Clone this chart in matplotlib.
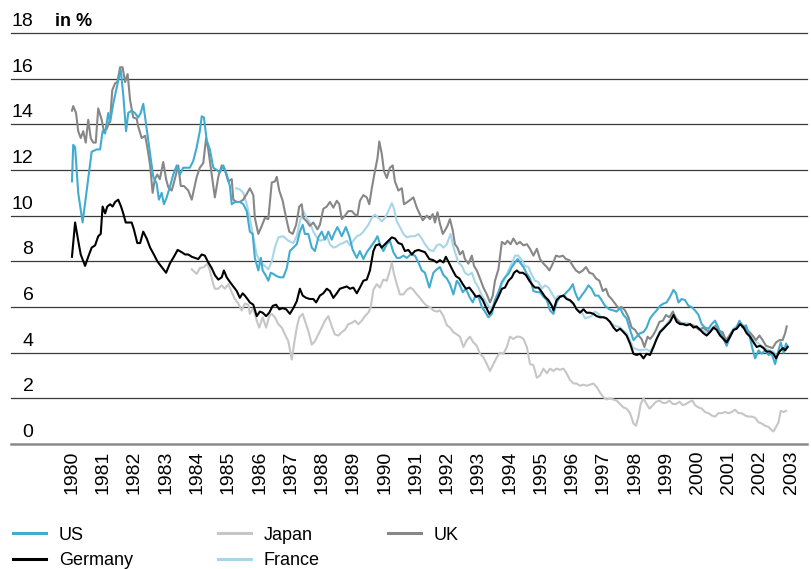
import matplotlib
matplotlib.use("Agg")
import matplotlib.pyplot as plt
from matplotlib.lines import Line2D
from matplotlib import transforms

plt.rcParams['font.family'] = ['Liberation Sans', 'DejaVu Sans']

# long-term interest rates, (decimal year, % p.a.)
us = [
    (1980.00, 11.5), (1980.04, 13.1), (1980.10, 13.0), (1980.20, 11.0), (1980.34, 9.7), (1980.47, 11.1),
    (1980.63, 12.8), (1980.79, 12.9), (1980.90, 12.9), (1980.98, 13.7), (1981.06, 13.6), (1981.16, 14.5),
    (1981.22, 14.1), (1981.32, 14.9), (1981.43, 15.6), (1981.56, 16.4), (1981.64, 15.3), (1981.73, 13.7),
    (1981.80, 14.5), (1981.91, 14.6), (1982.01, 14.5), (1982.12, 14.3), (1982.20, 14.5), (1982.28, 14.9),
    (1982.37, 14.0), (1982.50, 12.7), (1982.60, 11.7), (1982.71, 11.4), (1982.78, 10.7), (1982.87, 11.0),
    (1982.94, 10.5), (1983.03, 10.8), (1983.14, 11.3), (1983.24, 11.8), (1983.35, 12.2), (1983.45, 11.8),
    (1983.56, 12.1), (1983.77, 12.1), (1983.88, 12.4), (1983.99, 13.0), (1984.09, 13.7), (1984.15, 14.35),
    (1984.22, 14.3), (1984.31, 13.3), (1984.41, 12.9), (1984.52, 12.1), (1984.63, 12.0), (1984.73, 11.9),
    (1984.84, 12.2), (1984.95, 11.8), (1985.05, 11.3), (1985.11, 10.5), (1985.21, 10.6), (1985.37, 10.6),
    (1985.48, 10.5), (1985.59, 10.2), (1985.69, 9.3), (1985.78, 9.2), (1985.85, 8.15), (1985.96, 7.6),
    (1986.04, 8.15), (1986.10, 7.6), (1986.21, 7.35), (1986.28, 7.15), (1986.36, 7.5), (1986.44, 7.45),
    (1986.55, 7.35), (1986.65, 7.3), (1986.76, 7.3), (1986.87, 7.7), (1986.97, 8.45), (1987.08, 8.6),
    (1987.19, 8.75), (1987.29, 9.3), (1987.38, 9.6), (1987.45, 9.2), (1987.56, 9.2), (1987.67, 8.6),
    (1987.77, 8.45), (1987.88, 9.05), (1987.99, 9.3), (1988.09, 8.95), (1988.20, 9.3), (1988.31, 8.95),
    (1988.38, 9.2), (1988.49, 9.5), (1988.63, 9.1), (1988.76, 9.5), (1988.87, 9.1), (1988.98, 8.5),
    (1989.11, 8.15), (1989.21, 8.45), (1989.32, 8.1), (1989.43, 8.4), (1989.59, 8.7), (1989.69, 8.9),
    (1989.77, 9.1), (1989.85, 8.75), (1989.96, 8.45), (1990.07, 8.75), (1990.17, 8.9), (1990.28, 8.4),
    (1990.39, 8.15), (1990.49, 8.15), (1990.60, 8.25), (1990.71, 8.15), (1990.83, 8.3), (1990.97, 8.25),
    (1991.08, 7.95), (1991.19, 7.6), (1991.29, 7.5), (1991.43, 6.85), (1991.56, 7.5), (1991.67, 7.65),
    (1991.77, 7.75), (1991.88, 7.4), (1991.99, 7.25), (1992.09, 7.0), (1992.20, 6.55), (1992.31, 7.15),
    (1992.39, 7.0), (1992.50, 6.65), (1992.60, 6.8), (1992.71, 6.45), (1992.82, 6.2), (1992.89, 6.45),
    (1993.00, 6.45), (1993.11, 6.0), (1993.21, 5.8), (1993.32, 5.55), (1993.43, 5.7), (1993.53, 6.3),
    (1993.64, 6.65), (1993.75, 7.1), (1993.85, 7.3), (1993.96, 7.45), (1994.07, 7.75), (1994.17, 7.95),
    (1994.26, 8.1), (1994.33, 7.95), (1994.44, 7.75), (1994.55, 7.45), (1994.65, 7.25), (1994.76, 6.7),
    (1994.87, 6.65), (1994.97, 6.65), (1995.08, 6.45), (1995.19, 6.3), (1995.29, 5.85), (1995.40, 5.7),
    (1995.50, 6.2), (1995.61, 6.45), (1995.72, 6.5), (1995.82, 6.65), (1995.93, 6.8), (1996.02, 7.0),
    (1996.09, 6.65), (1996.20, 6.3), (1996.30, 6.5), (1996.41, 6.7), (1996.52, 6.95), (1996.62, 6.8),
    (1996.73, 6.5), (1996.84, 6.5), (1996.94, 6.3), (1997.05, 6.05), (1997.19, 5.9), (1997.32, 5.85),
    (1997.42, 5.8), (1997.53, 5.95), (1997.64, 5.65), (1997.74, 5.5), (1997.85, 5.0), (1997.96, 4.55),
    (1998.06, 4.7), (1998.17, 4.85), (1998.28, 4.9), (1998.38, 5.1), (1998.49, 5.5), (1998.60, 5.7),
    (1998.70, 5.85), (1998.81, 6.05), (1998.92, 6.15), (1999.02, 6.2), (1999.13, 6.45), (1999.24, 6.75),
    (1999.32, 6.6), (1999.40, 6.2), (1999.50, 6.35), (1999.61, 6.3), (1999.72, 6.05), (1999.82, 6.0),
    (1999.93, 5.85), (2000.04, 5.65), (2000.14, 5.25), (2000.25, 5.1), (2000.36, 5.05), (2000.46, 5.25),
    (2000.57, 5.4), (2000.64, 5.2), (2000.73, 4.9), (2000.84, 4.6), (2000.94, 4.3), (2001.05, 4.7),
    (2001.16, 5.0), (2001.26, 5.1), (2001.35, 5.4), (2001.45, 5.1), (2001.56, 5.2), (2001.67, 4.75),
    (2001.77, 4.15), (2001.85, 3.75), (2001.96, 4.1), (2002.06, 3.95), (2002.17, 4.1), (2002.28, 3.9),
    (2002.38, 3.95), (2002.49, 3.5), (2002.60, 4.1), (2002.67, 4.45), (2002.76, 4.0), (2002.84, 4.4),
    (2002.89, 4.25),
]

germany = [
    (1980.00, 8.2), (1980.10, 9.7), (1980.20, 8.9), (1980.28, 8.3), (1980.42, 7.8), (1980.52, 8.2),
    (1980.63, 8.6), (1980.74, 8.7), (1980.84, 9.1), (1980.92, 9.2), (1980.98, 10.4), (1981.06, 10.1),
    (1981.13, 10.4), (1981.22, 10.5), (1981.30, 10.4), (1981.38, 10.6), (1981.48, 10.7), (1981.57, 10.4),
    (1981.64, 10.1), (1981.72, 9.7), (1981.80, 9.7), (1981.91, 9.7), (1981.98, 9.4), (1982.09, 8.8),
    (1982.18, 8.8), (1982.28, 9.3), (1982.39, 9.0), (1982.50, 8.6), (1982.62, 8.3), (1982.73, 8.0),
    (1982.87, 7.75), (1983.01, 7.5), (1983.13, 7.9), (1983.26, 8.2), (1983.38, 8.5), (1983.51, 8.4),
    (1983.62, 8.3), (1983.72, 8.3), (1983.83, 8.2), (1983.93, 8.15), (1984.04, 8.1), (1984.15, 8.3),
    (1984.25, 8.25), (1984.36, 7.95), (1984.47, 7.7), (1984.57, 7.4), (1984.68, 7.2), (1984.79, 7.3),
    (1984.86, 7.6), (1984.95, 7.3), (1985.05, 7.1), (1985.16, 6.9), (1985.27, 6.7), (1985.37, 6.4),
    (1985.46, 6.6), (1985.53, 6.5), (1985.64, 6.3), (1985.69, 6.2), (1985.80, 6.1), (1985.91, 5.6),
    (1986.01, 5.8), (1986.10, 5.75), (1986.21, 5.6), (1986.31, 5.75), (1986.42, 6.05), (1986.53, 6.1),
    (1986.63, 5.9), (1986.74, 5.95), (1986.85, 5.9), (1986.97, 5.7), (1987.08, 5.95), (1987.19, 6.25),
    (1987.29, 6.8), (1987.38, 6.5), (1987.49, 6.4), (1987.61, 6.35), (1987.72, 6.35), (1987.81, 6.2),
    (1987.93, 6.5), (1988.04, 6.6), (1988.15, 6.8), (1988.25, 6.7), (1988.36, 6.4), (1988.47, 6.6),
    (1988.57, 6.8), (1988.68, 6.85), (1988.79, 6.9), (1988.89, 6.8), (1989.00, 6.85), (1989.11, 6.6),
    (1989.21, 6.85), (1989.32, 7.15), (1989.43, 7.2), (1989.53, 7.6), (1989.64, 8.45), (1989.72, 8.7),
    (1989.83, 8.75), (1989.91, 8.6), (1990.01, 8.75), (1990.12, 8.9), (1990.23, 9.05), (1990.33, 9.0),
    (1990.44, 8.8), (1990.55, 8.75), (1990.65, 8.45), (1990.76, 8.5), (1990.87, 8.3), (1990.97, 8.45),
    (1991.08, 8.5), (1991.19, 8.45), (1991.29, 8.4), (1991.43, 8.1), (1991.56, 8.05), (1991.67, 7.95),
    (1991.77, 8.05), (1991.88, 7.95), (1991.96, 8.2), (1992.07, 7.9), (1992.18, 7.6), (1992.28, 7.35),
    (1992.39, 7.25), (1992.50, 7.0), (1992.60, 6.8), (1992.71, 6.85), (1992.82, 6.65), (1992.92, 6.45),
    (1993.03, 6.5), (1993.14, 6.3), (1993.24, 6.0), (1993.35, 5.7), (1993.43, 5.85), (1993.53, 6.15),
    (1993.64, 6.45), (1993.75, 6.8), (1993.85, 6.85), (1993.96, 7.15), (1994.07, 7.3), (1994.14, 7.5),
    (1994.23, 7.6), (1994.31, 7.5), (1994.42, 7.5), (1994.52, 7.4), (1994.63, 7.15), (1994.74, 6.95),
    (1994.81, 6.85), (1994.92, 6.85), (1995.03, 6.65), (1995.13, 6.45), (1995.24, 6.3), (1995.35, 6.05),
    (1995.40, 5.85), (1995.50, 6.3), (1995.61, 6.45), (1995.72, 6.5), (1995.82, 6.35), (1995.93, 6.3),
    (1996.04, 6.15), (1996.14, 5.9), (1996.25, 5.75), (1996.36, 5.9), (1996.46, 5.75), (1996.57, 5.75),
    (1996.68, 5.7), (1996.78, 5.6), (1996.89, 5.55), (1997.00, 5.55), (1997.10, 5.5), (1997.21, 5.35),
    (1997.32, 5.1), (1997.42, 4.95), (1997.53, 5.05), (1997.64, 4.9), (1997.74, 4.75), (1997.85, 4.4),
    (1997.96, 3.95), (1998.06, 3.9), (1998.17, 3.95), (1998.28, 3.75), (1998.38, 3.95), (1998.49, 3.9),
    (1998.60, 4.25), (1998.70, 4.6), (1998.81, 4.9), (1998.92, 5.05), (1999.02, 5.2), (1999.13, 5.35),
    (1999.24, 5.65), (1999.34, 5.35), (1999.45, 5.25), (1999.56, 5.25), (1999.66, 5.2), (1999.77, 5.25),
    (1999.88, 5.1), (1999.98, 5.15), (2000.09, 5.0), (2000.20, 4.85), (2000.30, 4.75), (2000.41, 4.9),
    (2000.52, 5.1), (2000.62, 5.0), (2000.73, 4.75), (2000.84, 4.6), (2000.94, 4.45), (2001.05, 4.7),
    (2001.16, 5.0), (2001.26, 5.05), (2001.37, 5.25), (2001.48, 5.1), (2001.58, 4.85), (2001.69, 4.7),
    (2001.80, 4.45), (2001.90, 4.25), (2002.01, 4.3), (2002.12, 4.2), (2002.22, 4.05), (2002.33, 4.05),
    (2002.44, 3.95), (2002.52, 3.75), (2002.63, 4.05), (2002.74, 4.2), (2002.81, 4.1), (2002.89, 4.25),
]

uk = [
    (1980.00, 14.6), (1980.04, 14.8), (1980.13, 14.5), (1980.20, 13.7), (1980.28, 13.4), (1980.36, 13.7),
    (1980.44, 13.2), (1980.52, 14.2), (1980.60, 13.4), (1980.68, 13.2), (1980.76, 13.2), (1980.84, 14.7),
    (1980.95, 14.2), (1981.02, 13.7), (1981.11, 13.8), (1981.22, 14.2), (1981.29, 15.5), (1981.38, 15.8),
    (1981.45, 15.85), (1981.54, 16.5), (1981.62, 16.5), (1981.70, 15.85), (1981.78, 16.2), (1981.86, 15.05),
    (1981.96, 14.3), (1982.07, 14.25), (1982.12, 13.9), (1982.23, 13.4), (1982.34, 13.5), (1982.41, 13.0),
    (1982.50, 12.2), (1982.58, 11.0), (1982.65, 11.6), (1982.73, 11.8), (1982.81, 11.6), (1982.92, 12.35),
    (1983.01, 11.6), (1983.08, 11.25), (1983.19, 11.1), (1983.29, 11.6), (1983.40, 12.2), (1983.48, 11.3),
    (1983.58, 11.3), (1983.72, 11.1), (1983.83, 10.7), (1983.99, 11.7), (1984.09, 12.1), (1984.20, 12.3),
    (1984.29, 13.4), (1984.36, 12.9), (1984.47, 11.8), (1984.57, 10.8), (1984.68, 11.7), (1984.79, 12.2),
    (1984.89, 12.0), (1985.00, 11.5), (1985.11, 11.6), (1985.16, 10.7), (1985.27, 10.6), (1985.37, 10.6),
    (1985.48, 10.7), (1985.59, 10.95), (1985.69, 11.2), (1985.80, 10.9), (1985.85, 9.9), (1985.96, 9.2),
    (1986.07, 9.55), (1986.17, 9.9), (1986.28, 9.85), (1986.39, 11.45), (1986.49, 11.5), (1986.55, 11.7),
    (1986.63, 11.1), (1986.74, 10.65), (1986.85, 9.9), (1986.95, 9.3), (1987.06, 9.2), (1987.17, 9.6),
    (1987.27, 10.4), (1987.35, 10.5), (1987.40, 9.9), (1987.51, 9.75), (1987.61, 9.55), (1987.72, 9.7),
    (1987.85, 9.4), (1987.93, 9.6), (1988.04, 10.3), (1988.15, 10.4), (1988.25, 10.6), (1988.36, 10.35),
    (1988.47, 10.65), (1988.55, 10.5), (1988.63, 9.85), (1988.73, 10.0), (1988.84, 10.2), (1988.95, 10.2),
    (1989.05, 10.05), (1989.13, 10.0), (1989.21, 10.65), (1989.32, 10.9), (1989.43, 10.8), (1989.51, 10.5),
    (1989.59, 11.2), (1989.69, 11.95), (1989.77, 12.5), (1989.83, 13.25), (1989.91, 12.7), (1989.98, 11.95),
    (1990.07, 11.65), (1990.17, 12.1), (1990.26, 12.2), (1990.33, 11.5), (1990.44, 11.1), (1990.55, 11.2),
    (1990.62, 10.5), (1990.73, 10.6), (1990.83, 10.7), (1990.92, 10.8), (1991.03, 10.35), (1991.13, 10.05),
    (1991.22, 9.8), (1991.35, 10.0), (1991.45, 9.85), (1991.54, 10.07), (1991.61, 9.7), (1991.69, 10.15),
    (1991.77, 9.65), (1991.86, 9.2), (1991.93, 9.35), (1992.01, 9.55), (1992.09, 9.85), (1992.18, 9.35),
    (1992.25, 8.75), (1992.33, 8.6), (1992.41, 8.3), (1992.50, 8.45), (1992.57, 8.1), (1992.68, 7.9),
    (1992.79, 8.25), (1992.86, 7.8), (1992.95, 7.6), (1993.05, 7.25), (1993.16, 6.85), (1993.27, 6.55),
    (1993.37, 6.2), (1993.46, 6.5), (1993.53, 7.15), (1993.64, 7.65), (1993.75, 8.85), (1993.85, 8.75),
    (1993.93, 8.9), (1994.03, 8.75), (1994.12, 9.0), (1994.23, 8.75), (1994.33, 8.85), (1994.44, 8.7),
    (1994.55, 8.75), (1994.65, 8.55), (1994.76, 8.25), (1994.87, 8.55), (1994.97, 8.1), (1995.08, 7.9),
    (1995.19, 7.75), (1995.27, 7.6), (1995.38, 7.9), (1995.48, 8.25), (1995.59, 8.2), (1995.70, 8.25),
    (1995.80, 8.1), (1995.91, 8.05), (1996.02, 7.8), (1996.12, 7.6), (1996.23, 7.5), (1996.34, 7.6),
    (1996.44, 7.75), (1996.55, 7.5), (1996.66, 7.45), (1996.76, 7.25), (1996.87, 7.15), (1996.98, 6.7),
    (1997.08, 6.8), (1997.16, 6.5), (1997.26, 6.35), (1997.37, 6.15), (1997.48, 5.95), (1997.58, 6.0),
    (1997.69, 5.85), (1997.80, 5.55), (1997.90, 5.1), (1998.01, 5.0), (1998.12, 4.75), (1998.22, 4.6),
    (1998.31, 4.25), (1998.41, 4.7), (1998.49, 4.6), (1998.58, 4.75), (1998.68, 5.0), (1998.79, 5.35),
    (1998.90, 5.4), (1999.00, 5.65), (1999.11, 5.55), (1999.22, 5.8), (1999.32, 5.5), (1999.43, 5.35),
    (1999.54, 5.25), (1999.64, 5.2), (1999.75, 5.25), (1999.85, 5.2), (1999.96, 5.1), (2000.07, 5.0),
    (2000.18, 5.1), (2000.28, 5.0), (2000.39, 4.9), (2000.49, 5.05), (2000.60, 5.2), (2000.71, 4.95),
    (2000.81, 4.9), (2000.92, 4.55), (2001.03, 4.75), (2001.13, 4.95), (2001.24, 5.05), (2001.35, 5.35),
    (2001.45, 5.2), (2001.56, 5.05), (2001.67, 4.9), (2001.77, 4.75), (2001.88, 4.55), (2001.99, 4.75),
    (2002.09, 4.55), (2002.20, 4.3), (2002.31, 4.25), (2002.41, 4.2), (2002.52, 4.45), (2002.63, 4.55),
    (2002.73, 4.55), (2002.81, 4.85), (2002.86, 5.15),
]

france = [
    (1985.25, 11.2), (1985.37, 11.15), (1985.48, 11.0), (1985.59, 10.5), (1985.69, 9.9), (1985.80, 9.05),
    (1985.91, 8.3), (1986.01, 8.0), (1986.17, 7.8), (1986.28, 7.65), (1986.39, 8.0), (1986.49, 8.6),
    (1986.60, 9.05), (1986.76, 9.1), (1986.92, 8.9), (1987.08, 8.8), (1987.19, 9.1), (1987.29, 9.75),
    (1987.40, 10.2), (1987.51, 9.9), (1987.61, 9.7), (1987.72, 9.3), (1987.83, 9.05), (1987.93, 8.9),
    (1988.04, 8.95), (1988.15, 9.1), (1988.25, 8.75), (1988.36, 8.6), (1988.47, 8.65), (1988.57, 8.75),
    (1988.68, 8.8), (1988.79, 8.9), (1988.89, 8.7), (1989.00, 8.9), (1989.11, 9.1), (1989.21, 9.15),
    (1989.32, 9.3), (1989.48, 9.6), (1989.59, 9.9), (1989.69, 10.05), (1989.80, 9.9), (1989.91, 9.75),
    (1990.01, 9.9), (1990.12, 10.2), (1990.23, 10.55), (1990.30, 10.3), (1990.39, 9.75), (1990.49, 9.5),
    (1990.60, 9.2), (1990.71, 9.05), (1990.83, 9.1), (1990.97, 9.1), (1991.08, 9.2), (1991.19, 9.0),
    (1991.29, 8.75), (1991.43, 8.5), (1991.56, 8.45), (1991.67, 8.7), (1991.77, 8.75), (1991.88, 8.6),
    (1991.99, 8.75), (1992.11, 9.2), (1992.18, 8.75), (1992.25, 8.4), (1992.36, 7.95), (1992.47, 7.8),
    (1992.57, 7.5), (1992.68, 7.4), (1992.79, 7.5), (1992.89, 7.1), (1993.00, 6.85), (1993.11, 6.5),
    (1993.21, 6.3), (1993.32, 6.05), (1993.43, 5.9), (1993.53, 6.3), (1993.64, 6.65), (1993.75, 7.0),
    (1993.85, 7.25), (1993.96, 7.6), (1994.07, 7.9), (1994.17, 8.25), (1994.28, 8.25), (1994.39, 8.05),
    (1994.49, 7.8), (1994.60, 7.75), (1994.71, 7.4), (1994.81, 7.15), (1994.92, 7.1), (1995.03, 6.8),
    (1995.13, 6.95), (1995.24, 6.85), (1995.35, 6.6), (1995.45, 6.35), (1995.56, 6.5), (1995.67, 6.45),
    (1995.77, 6.5), (1995.88, 6.3), (1995.98, 6.2), (1996.09, 6.0), (1996.20, 5.85), (1996.30, 5.8),
    (1996.41, 5.5), (1996.52, 5.55), (1996.62, 5.6), (1996.73, 5.8), (1996.84, 5.7), (1996.94, 5.55),
    (1997.05, 5.55), (1997.16, 5.4), (1997.32, 5.2), (1997.53, 5.1), (1997.74, 4.85), (1997.96, 4.2),
    (1998.17, 4.1), (1998.38, 4.15), (1998.49, 4.05), (1998.60, 4.3), (1998.81, 4.95), (1999.02, 5.25),
    (1999.24, 5.65), (1999.45, 5.3), (1999.66, 5.3), (1999.88, 5.2), (2000.09, 5.05), (2000.30, 4.85),
    (2000.52, 5.15), (2000.73, 4.85), (2000.94, 4.55), (2001.16, 5.05), (2001.37, 5.3), (2001.58, 4.95),
    (2001.80, 4.55), (2002.01, 4.35), (2002.22, 4.15), (2002.44, 4.05), (2002.52, 3.85), (2002.63, 4.1),
    (2002.81, 4.2), (2002.89, 4.3),
]

japan = [
    (1983.83, 7.65), (1983.99, 7.45), (1984.09, 7.7), (1984.22, 7.75), (1984.33, 7.9), (1984.41, 7.6),
    (1984.52, 7.0), (1984.57, 6.8), (1984.68, 6.8), (1984.79, 6.95), (1984.89, 6.8), (1985.00, 7.0),
    (1985.11, 6.65), (1985.21, 6.35), (1985.32, 6.15), (1985.43, 5.85), (1985.53, 6.15), (1985.64, 6.1),
    (1985.69, 5.7), (1985.80, 5.95), (1985.91, 5.4), (1985.99, 5.1), (1986.10, 5.55), (1986.21, 5.1),
    (1986.31, 5.6), (1986.39, 5.7), (1986.49, 5.55), (1986.60, 5.25), (1986.71, 5.1), (1986.81, 4.8),
    (1986.92, 4.5), (1987.03, 3.7), (1987.10, 4.35), (1987.19, 5.1), (1987.27, 5.55), (1987.38, 5.7),
    (1987.45, 5.4), (1987.56, 4.95), (1987.67, 4.35), (1987.77, 4.5), (1987.88, 4.8), (1987.99, 5.1),
    (1988.09, 5.4), (1988.20, 5.6), (1988.31, 5.15), (1988.41, 4.8), (1988.52, 4.75), (1988.63, 4.9),
    (1988.73, 5.0), (1988.84, 5.25), (1988.95, 5.3), (1989.05, 5.4), (1989.16, 5.25), (1989.27, 5.4),
    (1989.37, 5.6), (1989.48, 5.75), (1989.55, 5.95), (1989.64, 6.75), (1989.75, 7.0), (1989.85, 6.85),
    (1989.96, 7.2), (1990.07, 7.15), (1990.17, 7.6), (1990.23, 7.95), (1990.30, 7.45), (1990.39, 7.0),
    (1990.49, 6.55), (1990.60, 6.55), (1990.71, 6.75), (1990.83, 6.85), (1990.92, 6.75), (1991.03, 6.55),
    (1991.13, 6.4), (1991.24, 6.2), (1991.35, 6.05), (1991.45, 6.0), (1991.56, 5.85), (1991.67, 5.8),
    (1991.77, 5.85), (1991.88, 5.6), (1991.99, 5.2), (1992.09, 5.1), (1992.20, 4.9), (1992.31, 4.8),
    (1992.41, 4.7), (1992.52, 4.25), (1992.63, 4.55), (1992.73, 4.7), (1992.84, 4.45), (1992.95, 4.3),
    (1993.05, 3.95), (1993.16, 3.8), (1993.27, 3.5), (1993.37, 3.2), (1993.48, 3.5), (1993.59, 3.8),
    (1993.69, 4.0), (1993.80, 3.95), (1993.91, 4.25), (1994.01, 4.7), (1994.12, 4.6), (1994.23, 4.7),
    (1994.33, 4.7), (1994.44, 4.6), (1994.55, 4.25), (1994.65, 3.5), (1994.76, 3.45), (1994.87, 2.9),
    (1994.97, 3.0), (1995.08, 3.3), (1995.19, 3.1), (1995.29, 3.3), (1995.40, 3.2), (1995.50, 3.3),
    (1995.61, 3.25), (1995.72, 3.3), (1995.82, 3.1), (1995.93, 2.8), (1996.04, 2.65), (1996.14, 2.65),
    (1996.25, 2.55), (1996.36, 2.6), (1996.46, 2.55), (1996.57, 2.6), (1996.68, 2.65), (1996.78, 2.5),
    (1996.89, 2.25), (1997.00, 2.05), (1997.10, 1.95), (1997.21, 2.0), (1997.32, 1.95), (1997.42, 1.9),
    (1997.53, 1.75), (1997.64, 1.6), (1997.74, 1.55), (1997.85, 1.35), (1997.96, 0.9), (1998.04, 0.8),
    (1998.12, 1.2), (1998.19, 1.75), (1998.28, 2.0), (1998.38, 1.75), (1998.47, 1.55), (1998.58, 1.7),
    (1998.68, 1.85), (1998.79, 1.9), (1998.90, 1.8), (1999.00, 1.8), (1999.11, 1.9), (1999.22, 1.75),
    (1999.32, 1.75), (1999.43, 1.85), (1999.54, 1.7), (1999.64, 1.75), (1999.75, 1.85), (1999.85, 1.9),
    (1999.93, 1.7), (2000.04, 1.6), (2000.14, 1.55), (2000.25, 1.4), (2000.36, 1.35), (2000.46, 1.25),
    (2000.57, 1.2), (2000.68, 1.35), (2000.78, 1.35), (2000.89, 1.4), (2001.00, 1.35), (2001.10, 1.4),
    (2001.21, 1.5), (2001.32, 1.35), (2001.42, 1.35), (2001.53, 1.25), (2001.64, 1.2), (2001.74, 1.2),
    (2001.85, 1.15), (2001.96, 0.95), (2002.06, 0.9), (2002.17, 0.8), (2002.28, 0.75), (2002.38, 0.6),
    (2002.44, 0.55), (2002.52, 0.75), (2002.60, 0.95), (2002.67, 1.45), (2002.76, 1.4), (2002.84, 1.45),
]

years = list(range(1980, 2004))
y_ticks = list(range(0, 19, 2))

# drawing order back to front: (label, data, colour)
series = [
    ("Japan", japan, "#c6c6c6"),
    ("France", france, "#a8d6e8"),
    ("UK", uk, "#878787"),
    ("US", us, "#41acd0"),
    ("Germany", germany, "#000000"),
]

W, H = 812, 569
fig = plt.figure(figsize=(W / 100, H / 100), dpi=100)
ax = fig.add_axes([11 / W, 1 - 444 / H, (807 - 11) / W, (444 - 33) / H])
ax.set_xlim(1978.05, 2003.51)
ax.set_ylim(0, 18)
for s in ax.spines.values():
    s.set_visible(False)

for v in y_ticks:
    if v == 0:
        ax.axhline(v, color="#8a8a8a", lw=1.8, zorder=1, clip_on=False)
    else:
        ax.axhline(v, color="#3a3a3a", lw=0.9, zorder=1, clip_on=False)

for i, (name, data, col) in enumerate(series):
    t = [p[0] for p in data]
    r = [p[1] for p in data]
    ax.plot(t, r, color=col, lw=1.5, zorder=2 + i, solid_joinstyle="round")

# y labels sit above their gridline
ax.set_yticks([])
tr = transforms.blended_transform_factory(fig.transFigure, ax.transData)
for v in y_ticks:
    ax.text(33.5 / W, v + 0.31, str(v), transform=tr, ha="right", va="baseline", fontsize=14)
ax.text(55 / W, 18 + 0.31, "in %", transform=tr, ha="left", va="baseline",
        fontsize=13, fontweight="bold")

ax.set_xticks(years)
ax.set_xticklabels([str(y) for y in years], rotation=90, fontsize=14)
ax.tick_params(axis="x", length=0, pad=5)

# legend, drawn by hand in figure pixels
legend_pos = {
    "US": (13, 533), "Germany": (13, 558.5),
    "Japan": (218, 533), "France": (218, 558.5),
    "UK": (388, 533),
}
colours = {name: col for name, _, col in series}
for name, (x0, y0) in legend_pos.items():
    fig.add_artist(Line2D([x0 / W, (x0 + 33) / W], [1 - y0 / H, 1 - y0 / H],
                          transform=fig.transFigure, color=colours[name], lw=2.2))
    fig.text((x0 + 46) / W, 1 - (y0 + 6.5) / H, name, ha="left", va="baseline", fontsize=13)

fig.savefig("out.png", dpi=100)
